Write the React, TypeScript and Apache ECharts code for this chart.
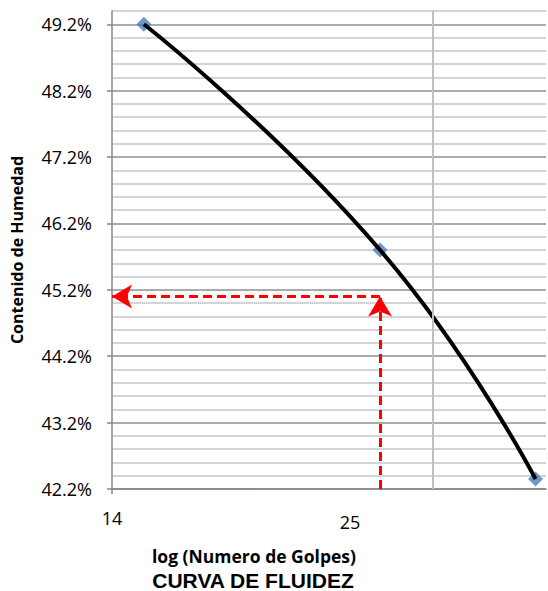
import React, { useEffect, useRef } from "react";
import * as echarts from "echarts";

// Data
const blows = [15, 25, 35];
const moisture = [49.2, 45.8, 42.35];
const yTickLabels = [42.2, 43.2, 44.2, 45.2, 46.2, 47.2, 48.2, 49.2];
const xTickLabels = [14];
const refBlows = 25;
const refMoisture = 45.1;
const xGridValues = [28];

const FONT = "Open Sans";

export default function App() {
  const ref = useRef<HTMLDivElement>(null);
  useEffect(() => {
    document.body.style.margin = "0";
    const chart = echarts.init(ref.current!, null, { renderer: "svg" });
    const pts = blows.map((b, i) => [b, moisture[i]]);
    const axisGray = "#878787";
    const yBase = {
      type: "value",
      min: 42.2,
      max: 49.4,
      interval: 0.2,
      position: "left",
    };
    chart.setOption({
      animation: false,
      grid: { left: 112, top: 11, right: 2, bottom: 102 },
      xAxis: {
        type: "log",
        logBase: 2,
        min: 14,
        max: 35.8,
        axisLine: { show: true, lineStyle: { color: axisGray, width: 1.5 } },
        axisTick: { show: true, customValues: xTickLabels, length: 5, lineStyle: { color: axisGray, width: 1.5 } },
        axisLabel: {
          customValues: xTickLabels,
          margin: 20,
          fontSize: 18,
          fontFamily: FONT,
          color: "#000",
          formatter: (v: number) => String(Math.round(v)),
        },
        splitLine: { show: false },
      },
      yAxis: [
        {
          ...yBase,
          name: "Contenido de Humedad",
          nameLocation: "middle",
          nameGap: 87,
          nameRotate: 90,
          nameTextStyle: { fontWeight: "bold", fontSize: 16, fontFamily: FONT, color: "#000" },
          axisLine: { show: true, lineStyle: { color: axisGray, width: 1.5 } },
          axisTick: { show: false },
          axisLabel: {
            customValues: yTickLabels,
            margin: 20,
            fontSize: 18,
            fontFamily: FONT,
            color: "#000",
            formatter: (v: number) => v.toFixed(1) + "%",
          },
          splitLine: {
            show: true,
            lineStyle: {
              color: ["#8f8f8f", "#c6c6c6", "#c6c6c6", "#c6c6c6", "#c6c6c6"],
              width: 1.5,
            },
          },
        },
        {
          ...yBase,
          axisLine: { show: false },
          axisTick: { show: true, customValues: yTickLabels, length: 5, lineStyle: { color: axisGray, width: 1.5 } },
          axisLabel: { show: false },
          splitLine: { show: false },
        },
      ],
      graphic: [
        {
          type: "text",
          x: 350,
          y: 522,
          style: { text: "25", fontSize: 18, fontFamily: FONT, fill: "#000", textAlign: "center", textVerticalAlign: "middle" },
        },
        {
          type: "text",
          x: 254,
          y: 556,
          style: {
            text: "log (Numero de Golpes)",
            fontSize: 17.5,
            lineHeight: 18,
            fontWeight: "bold",
            fontFamily: FONT,
            fill: "#000",
            textAlign: "center",
            textVerticalAlign: "middle",
          },
        },
        {
          type: "text",
          x: 253,
          y: 580,
          style: {
            text: "CURVA DE FLUIDEZ",
            fontSize: 21,
            lineHeight: 20,
            fontWeight: "bold",
            fontFamily: "Liberation Sans",
            fill: "#000",
            textAlign: "center",
            textVerticalAlign: "middle",
          },
        },
      ],
      series: [
        {
          type: "line",
          data: [],
          z: 1,
          markLine: {
            silent: true,
            symbol: "none",
            label: { show: false },
            lineStyle: { color: "#c0c0c0", width: 2, type: "solid" },
            data: xGridValues.map((v) => ({ xAxis: v })),
          },
        },
        {
          type: "scatter",
          data: pts,
          symbol: "diamond",
          symbolSize: 15,
          itemStyle: { color: "#4a7ebb" },
          z: 2,
        },
        {
          type: "line",
          data: pts,
          smooth: true,
          showSymbol: false,
          symbol: "none",
          lineStyle: { color: "#000", width: 4 },
          z: 3,
        },
        {
          type: "line",
          data: [],
          z: 4,
          markLine: {
            silent: true,
            symbol: ["none", "arrow"],
            symbolSize: [18, 20],
            label: { show: false },
            lineStyle: { color: "#ff0000", width: 3, type: [9, 5] },
            data: [
              [{ coord: [refBlows, 42.2] }, { coord: [refBlows, refMoisture] }],
              [{ coord: [refBlows, refMoisture] }, { coord: [14, refMoisture] }],
            ],
          },
        },
      ],
    });
    return () => chart.dispose();
  }, []);
  return <div ref={ref} style={{ width: 548, height: 591 }} />;
}
